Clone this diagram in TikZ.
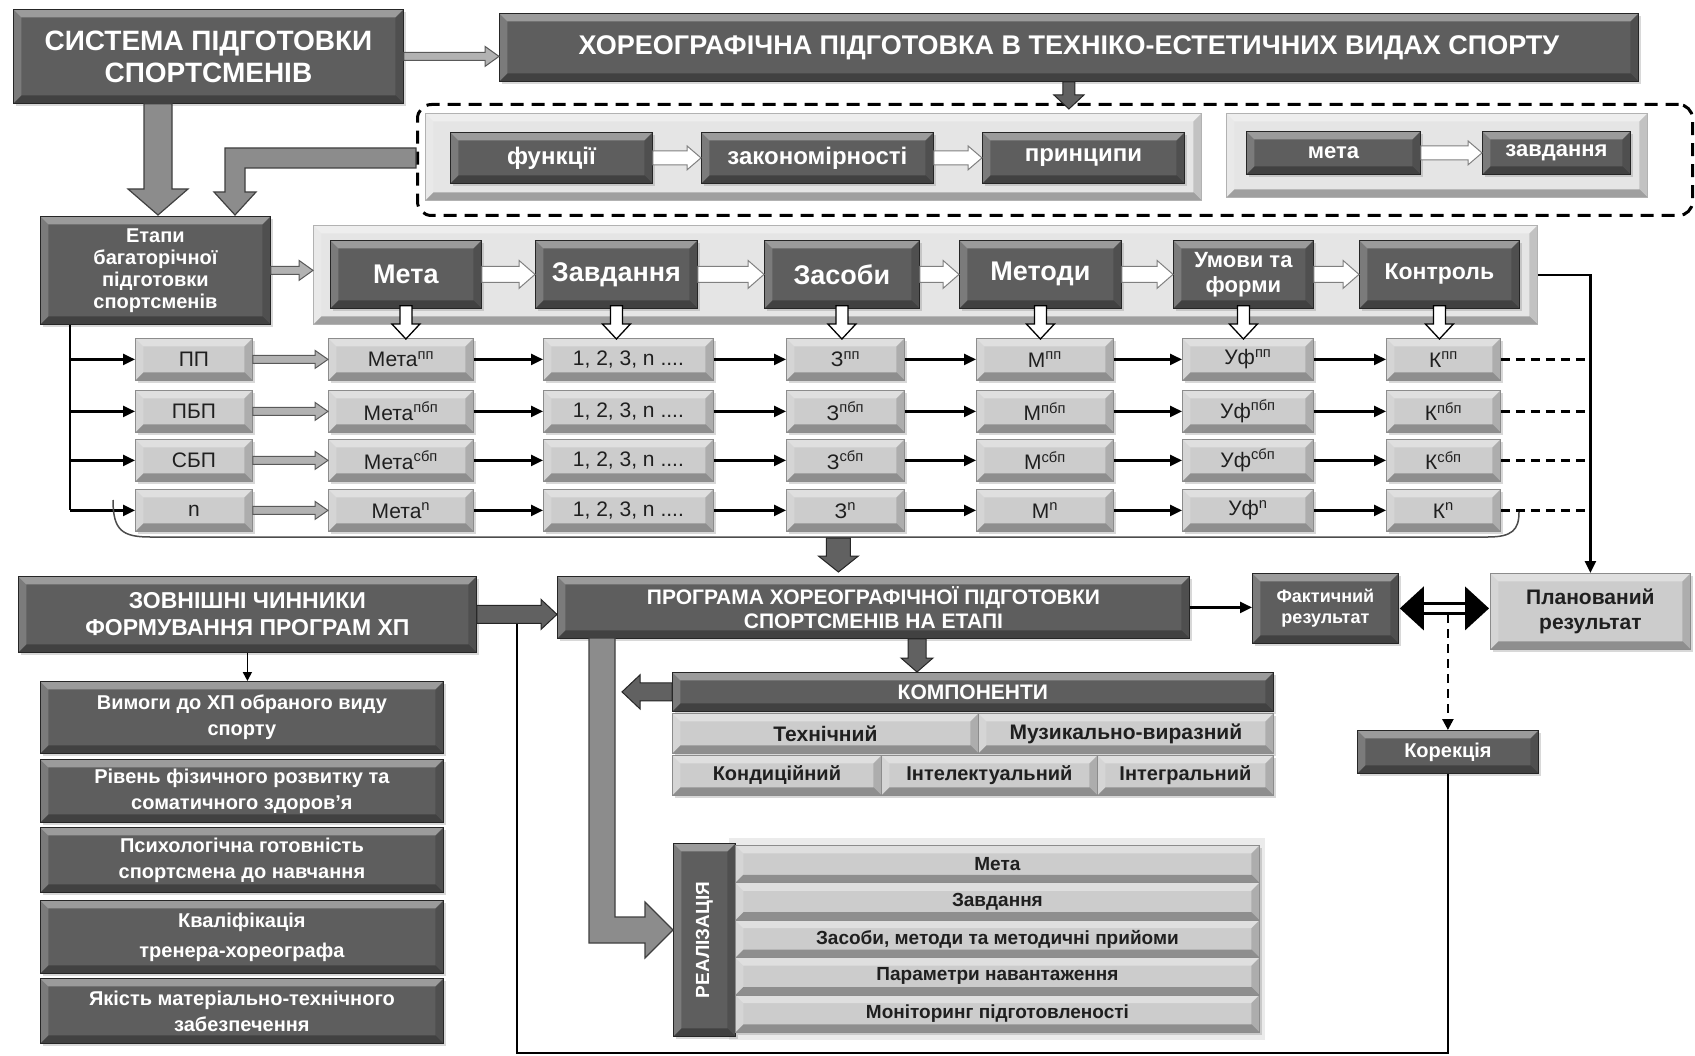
\documentclass[tikz,border=0pt]{standalone}
\usepackage{fontspec}
\setmainfont{Liberation Sans}
\usetikzlibrary{calc,arrows.meta,shadows}
\newcommand\fs[2]{\fontsize{#1}{#2}\selectfont}
\newcommand\R[7]{\node[#2,anchor=north west,minimum width={(#5-#3)*1pt},minimum height={(#6-#4)*1pt}] (#1) at (#3,#4) {#7};}
\newcommand\barr[6][]{%
  \coordinate (bA) at #2; \coordinate (bB) at #3;
  \coordinate (bH) at ($(bB)!#6!(bA)$);
  \path[#1] ($(bA)!#4!90:(bB)$) -- ($(bH)!#4!-90:(bA)$) -- ($(bH)!#5!-90:(bA)$) -- (bB) -- ($(bH)!#5!90:(bA)$) -- ($(bH)!#4!90:(bA)$) -- ($(bA)!#4!-90:(bB)$) -- cycle;}
\begin{document}
\begin{tikzpicture}[x=1pt,y=-1pt,
 bevel/.style={path picture={
   \fill[white,opacity=.38] (path picture bounding box.north west) -- (path picture bounding box.north east) -- ([shift={(-8pt,-8pt)}]path picture bounding box.north east) -- ([shift={(8pt,-8pt)}]path picture bounding box.north west) -- cycle;
   \fill[white,opacity=.18] (path picture bounding box.north west) -- ([shift={(8pt,-8pt)}]path picture bounding box.north west) -- ([shift={(8pt,8pt)}]path picture bounding box.south west) -- (path picture bounding box.south west) -- cycle;
   \fill[black,opacity=.3] (path picture bounding box.south west) -- (path picture bounding box.south east) -- ([shift={(-8pt,8pt)}]path picture bounding box.south east) -- ([shift={(8pt,8pt)}]path picture bounding box.south west) -- cycle;
   \fill[black,opacity=.15] (path picture bounding box.north east) -- ([shift={(-8pt,-8pt)}]path picture bounding box.north east) -- ([shift={(-8pt,8pt)}]path picture bounding box.south east) -- (path picture bounding box.south east) -- cycle;
 }},
 base/.style={inner sep=2pt,align=center,line width=.8pt},
 dark/.style={base,fill=black!63,draw=black!85,text=white,bevel,drop shadow={opacity=.3,shadow xshift=3pt,shadow yshift=-3pt}},
 light/.style={base,fill=black!20,draw=black!45,text=black!88,bevel,drop shadow={opacity=.3,shadow xshift=3pt,shadow yshift=-3pt}},
 bandbox/.style={base,fill=black!10,draw=black!30,bevel},
 warr/.style={fill=white,draw=black!50,line width=1pt},
 garr/.style={fill=black!30,draw=black!65,line width=1pt},
 darr/.style={fill=black!62,draw=black!85,line width=1pt},
 harr/.style={fill=white,draw=black,line width=1.3pt},
 bigarr/.style={fill=black!45,draw=black!75,line width=1.2pt},
 conn/.style={line width=2.4pt,-{Triangle[length=12pt,width=11pt]}},
]
\useasboundingbox (0,0) rectangle (1695,1056);
\fill[white] (0,0) rectangle (1695,1056);

% ---------- top ----------
\R{sys}{dark,font=\fs{28}{32}\bfseries}{13}{9}{403}{103}{СИСТЕМА ПІДГОТОВКИ\\СПОРТСМЕНІВ}
\R{hor}{dark,font=\fs{27}{30}\bfseries}{499}{13}{1638}{81}{ХОРЕОГРАФІЧНА ПІДГОТОВКА В ТЕХНІКО-ЕСТЕТИЧНИХ ВИДАХ СПОРТУ}
\R{dash}{draw,line width=3pt,dash pattern=on 13pt off 8pt,rounded corners=14pt}{416}{103}{1691}{214}{}
\R{g1}{bandbox}{425}{113}{1201}{200}{}
\R{g2}{bandbox}{1226}{113}{1647}{197}{}
\R{f1}{dark,font=\fs{24}{26}\bfseries}{450}{132}{652}{183}{функції}
\R{f2}{dark,font=\fs{24}{26}\bfseries}{701}{132}{933}{183}{закономірності}
\R{f3}{dark,font=\fs{24}{26}\bfseries}{982}{132}{1184}{183}{принципи}
\R{m1}{dark,font=\fs{22}{24}\bfseries}{1246}{131}{1420}{174}{мета}
\R{m2}{dark,font=\fs{22}{24}\bfseries}{1482}{131}{1630}{174}{завдання}

% ---------- stages ----------
\R{et}{dark,font=\fs{20}{22}\bfseries}{40}{216}{270}{324}{Етапи\\багаторічної\\підготовки\\спортсменів}
\R{sband}{bandbox}{313}{225}{1537}{324}{}
\R{s1}{dark,font=\fs{27}{29}\bfseries}{330}{240}{481}{308}{Мета}
\R{s2}{dark,font=\fs{27}{29}\bfseries}{535}{240}{697}{308}{Завдання}
\R{s3}{dark,font=\fs{27}{29}\bfseries}{764}{240}{919}{308}{Засоби}
\R{s4}{dark,font=\fs{27}{29}\bfseries}{959}{240}{1121}{308}{Методи}
\R{s5}{dark,font=\fs{22}{25}\bfseries}{1173}{240}{1313}{308}{Умови та\\форми}
\R{s6}{dark,font=\fs{23}{25}\bfseries}{1359}{240}{1519}{308}{Контроль}

% ---------- matrix rows ----------
\foreach \i/\y/\lab/\supx in {1/338/ПП/пп,2/390/ПБП/пбп,3/439/СБП/сбп,4/489/n/n}{
 \R{lab\i}{light,font=\fs{21}{23}}{135}{\y}{252}{\y+42}{\lab}
 \R{me\i}{light,font=\fs{21}{23}}{328}{\y}{473}{\y+42}{Мета\textsuperscript{\supx}}
 \R{za\i}{light,font=\fs{21}{23}}{543}{\y}{713}{\y+42}{1, 2, 3, n ....}
 \R{zs\i}{light,font=\fs{21}{23}}{786}{\y}{904}{\y+42}{З\textsuperscript{\supx}}
 \R{mt\i}{light,font=\fs{21}{23}}{976}{\y}{1113}{\y+42}{М\textsuperscript{\supx}}
 \R{um\i}{light,font=\fs{21}{23}}{1182}{\y}{1313}{\y+42}{Уф\textsuperscript{\supx}}
 \R{ko\i}{light,font=\fs{21}{23}}{1386}{\y}{1500}{\y+42}{К\textsuperscript{\supx}}
}

% ---------- middle ----------
\R{zov}{dark,font=\fs{23}{27}\bfseries}{18}{576}{476}{652}{ЗОВНІШНІ ЧИННИКИ\\ФОРМУВАННЯ ПРОГРАМ ХП}
\R{prog}{dark,font=\fs{21}{24}\bfseries}{557}{576}{1189}{638}{ПРОГРАМА ХОРЕОГРАФІЧНОЇ ПІДГОТОВКИ\\СПОРТСМЕНІВ НА ЕТАПІ}
\R{fact}{dark,font=\fs{18}{21}\bfseries}{1252}{573}{1398}{643}{Фактичний\\результат}
\R{plan}{light,font=\fs{21}{25}\bfseries}{1490}{573}{1690}{649}{Планований\\результат}
\R{kor}{dark,font=\fs{20}{22}\bfseries}{1357}{730}{1538}{773}{Корекція}

% ---------- left list ----------
\R{v1}{dark,font=\fs{20}{26}\bfseries}{40}{681}{443}{753}{Вимоги до ХП обраного виду\\спорту}
\R{v2}{dark,font=\fs{20}{26}\bfseries}{40}{759}{443}{822}{Рівень фізичного розвитку та\\соматичного здоров'я}
\R{v3}{dark,font=\fs{20}{26}\bfseries}{40}{827}{443}{892}{Психологічна готовність\\спортсмена до навчання}
\R{v4}{dark,font=\fs{20}{30}\bfseries}{40}{900}{443}{973}{Кваліфікація\\тренера-хореографа}
\R{v5}{dark,font=\fs{20}{26}\bfseries}{40}{978}{443}{1043}{Якість матеріально-технічного\\забезпечення}

% ---------- components ----------
\R{komp}{dark,font=\fs{21}{23}\bfseries}{672}{672}{1273}{711}{КОМПОНЕНТИ}
\R{c1}{light,font=\fs{21}{23}\bfseries}{672}{713}{978}{753}{Технічний}
\R{c2}{light,font=\fs{21}{23}\bfseries}{978}{713}{1273}{753}{Музикально-виразний}
\R{c3}{light,font=\fs{20}{22}\bfseries}{672}{755}{881}{795}{Кондиційний}
\R{c4}{light,font=\fs{20}{22}\bfseries}{881}{755}{1097}{795}{Інтелектуальний}
\R{c5}{light,font=\fs{20}{22}\bfseries}{1097}{755}{1273}{795}{Інтегральний}

% ---------- realization ----------
\fill[black!8] (729,838) rectangle (1265,1040);
\R{real}{dark}{673}{843}{735}{1036}{\rotatebox{90}{\fs{19}{21}\bfseries РЕАЛІЗАЦІЯ}}
\foreach \i/\t in {1/Мета,2/Завдання,3/{Засоби, методи та методичні прийоми},4/Параметри навантаження,5/Моніторинг підготовленості}{
 \pgfmathsetmacro\yy{845+(\i-1)*37.4}
 \R{r\i}{light,font=\fs{19}{21}\bfseries}{735}{\yy}{1259}{\yy+37.4}{\t}
}

% ---------- top connectors ----------
\barr[garr]{(sys.east)}{(hor.west |- sys.east)}{4pt}{10pt}{14pt}
\barr[darr]{(hor.south)}{($(hor.south |- dash.north)+(0,6)$)}{6pt}{15pt}{14pt}
\barr[warr]{(f1.east)}{(f2.west)}{7pt}{12pt}{14pt}
\barr[warr]{(f2.east)}{(f3.west)}{7pt}{12pt}{14pt}
\barr[warr]{(m1.east)}{(m2.west)}{7pt}{12pt}{14pt}
\barr[bigarr]{($(sys.south west)+(145,0)$)}{($(et.north west)+(118,-1)$)}{14pt}{30pt}{26pt}
\path[bigarr] (416,148) -- (225,148) -- (225,192) -- (214,192) -- (235,215) -- (256,192) -- (245,192) -- (245,168) -- (416,168) -- cycle;

% ---------- stage connectors ----------
\barr[garr]{(et.east)}{(sband.west |- et.east)}{4pt}{10pt}{14pt}
\barr[warr]{(s1.east)}{(s2.west)}{8pt}{14pt}{16pt}
\barr[warr]{(s2.east)}{(s3.west)}{8pt}{14pt}{16pt}
\barr[warr]{(s3.east)}{(s4.west)}{8pt}{14pt}{16pt}
\barr[warr]{(s4.east)}{(s5.west)}{8pt}{14pt}{16pt}
\barr[warr]{(s5.east)}{(s6.west)}{8pt}{14pt}{16pt}
\foreach \s/\t in {1/me1,2/za1,3/zs1,4/mt1,5/um1,6/ko1}{
 \barr[harr]{($(s\s.south)+(0,-3)$)}{($(s\s.south |- \t.north)+(0,1)$)}{6pt}{14pt}{15pt}
}
\draw[conn] (sband.east) -| (plan.north);

% ---------- row connectors ----------
\coordinate (trunk) at ($(et.south west)+(30,0)$);
\draw[line width=2.4pt] (trunk) -- (lab4.west -| trunk);
\foreach \i in {1,2,3,4}{
 \draw[conn] (lab\i.west -| trunk) -- (lab\i.west);
 \barr[garr]{(lab\i.east)}{(me\i.west)}{4pt}{9pt}{13pt}
 \draw[conn] (me\i.east) -- (za\i.west);
 \draw[conn] (za\i.east) -- (zs\i.west);
 \draw[conn] (zs\i.east) -- (mt\i.west);
 \draw[conn] (mt\i.east) -- (um\i.west);
 \draw[conn] (um\i.east) -- (ko\i.west);
 \draw[line width=2.5pt,dash pattern=on 9pt off 6pt] (ko\i.east) -- ++(84,0);
}
\draw[black!70,line width=1.5pt] (113,500) .. controls (113,530) and (122,537) .. (150,537) -- (1488,537) .. controls (1512,537) and (1519,530) .. (1519,512);
\barr[darr]{($(prog.north)+(-35,-38)$)}{($(prog.north)+(-35,-4)$)}{12pt}{20pt}{16pt}

% ---------- middle connectors ----------
\coordinate (lineEnd) at ($(zov.east)!.5!(prog.west |- zov.east)+(0,6)$);
\draw[line width=2.2pt] (kor.south) -- ($(kor.south)+(0,279)$) -| (lineEnd);
\barr[darr]{(zov.east)}{(prog.west |- zov.east)}{9pt}{15pt}{16pt}
\draw[conn] (prog.east) -- (fact.west |- prog.east);
\draw[line width=2.2pt] ($(fact.east)+(20,-5)$) -- ($(plan.west |- fact.east)+(-20,-5)$);
\draw[line width=2.2pt] ($(fact.east)+(20,5)$) -- ($(plan.west |- fact.east)+(-20,5)$);
\fill ($(fact.east)+(1,0)$) -- ++(24,-22) -- ++(0,44) -- cycle;
\fill ($(plan.west |- fact.east)+(-1,0)$) -- ++(-24,-22) -- ++(0,44) -- cycle;
\draw[line width=2.4pt,dash pattern=on 9pt off 6pt,-{Triangle[length=11pt,width=11pt]}] ($(kor.north |- fact.east)+(0,6)$) -- (kor.north);
\draw[line width=1.6pt,-{Triangle[length=9pt,width=9pt]}] (zov.south) -- (zov.south |- v1.north);

% ---------- program to components / realization ----------
\coordinate (pk) at ($(komp.north west)+(245,0)$);
\barr[darr]{(pk |- prog.south)}{(pk)}{9pt}{16pt}{14pt}
\path[bigarr] (589,638) -- (589,943) -- (645,943) -- (645,958) -- (real.west |- 0,930) -- (645,902) -- (645,917) -- (615,917) -- (615,638) -- cycle;
\barr[darr]{(komp.west)}{($(komp.west)+(-50,0)$)}{9pt}{17pt}{18pt}
\end{tikzpicture}
\end{document}
